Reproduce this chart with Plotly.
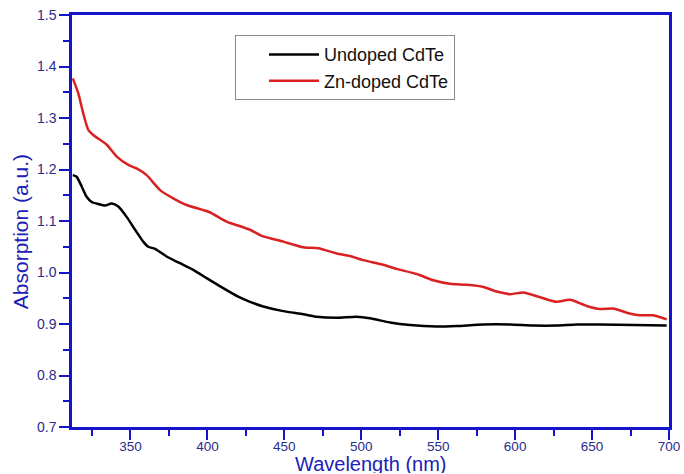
import plotly.graph_objects as go

# Undoped CdTe
wl_undoped = [312.5, 315, 318.3, 321.5, 324.8, 329.1, 333.4, 337.8, 342.1, 347.5, 353, 358.3,
              361.6, 366, 373.5, 382.2, 390.8, 399.5, 410, 420, 427.7, 436.3, 449.3, 462.3,
              471, 484, 497, 505.7, 518.7, 531.7, 549, 562, 579.3, 596.7, 611.8, 627, 640,
              655.2, 676.8, 698.5]
abs_undoped = [1.189, 1.186, 1.167, 1.147, 1.137, 1.133, 1.130, 1.134, 1.128, 1.108, 1.083, 1.060,
               1.050, 1.046, 1.031, 1.018, 1.005, 0.989, 0.970, 0.953, 0.943, 0.934, 0.925, 0.919,
               0.914, 0.912, 0.914, 0.911, 0.903, 0.898, 0.895, 0.896, 0.899, 0.899, 0.897, 0.897,
               0.899, 0.899, 0.898, 0.897]

# Zn-doped CdTe
wl_doped = [312.5, 316.1, 319.3, 322.6, 325.8, 334.6, 341.1, 348.6, 354.0, 360.5, 369.2, 377.8,
            386.5, 401.4, 412.5, 427.7, 436.3, 449.3, 462.3, 472.1, 484.0, 492.7, 501.3, 514.3,
            523.0, 536.0, 546.8, 557.7, 568.5, 579.3, 588.0, 596.7, 605.3, 616.2, 627.0, 635.7,
            646.5, 655.1, 663.8, 672.5, 681.1, 689.8, 698.5]
abs_doped = [1.377, 1.348, 1.309, 1.277, 1.267, 1.248, 1.225, 1.209, 1.202, 1.189, 1.160, 1.144,
             1.131, 1.117, 1.099, 1.083, 1.070, 1.060, 1.049, 1.047, 1.037, 1.032, 1.024, 1.015,
             1.007, 0.997, 0.985, 0.978, 0.976, 0.972, 0.963, 0.958, 0.961, 0.952, 0.943, 0.947,
             0.935, 0.929, 0.930, 0.922, 0.917, 0.917, 0.909]

x_ticks = [350, 400, 450, 500, 550, 600, 650, 700]
y_ticks = [0.7, 0.8, 0.9, 1.0, 1.1, 1.2, 1.3, 1.4, 1.5]
y_ticklabels = ["0.7", "0.8", "0.9", "1.0", "1.1", "1.2", "1.3", "1.4", "1.5"]

AX = "#1414c8"
LBL = "#2b2b8c"
TITLE_C = "#2020b8"
FONT = "Arial, Liberation Sans, sans-serif"

fig = go.Figure()
fig.add_trace(go.Scatter(x=wl_undoped, y=abs_undoped, mode="lines", name="Undoped CdTe",
                         line=dict(color="#000000", width=2.5, shape="spline", smoothing=0.6)))
fig.add_trace(go.Scatter(x=wl_doped, y=abs_doped, mode="lines", name="Zn-doped CdTe",
                         line=dict(color="#d92121", width=2.5, shape="spline", smoothing=0.6)))

axis_common = dict(showline=True, linecolor=AX, linewidth=2.5, mirror=True, ticks="outside",
                   tickcolor=AX, tickwidth=2, ticklen=10, showgrid=False, zeroline=False,
                   automargin=False)

fig.update_xaxes(range=[312, 700], tickvals=x_ticks, ticklabelstandoff=-5,
                 tickfont=dict(family=FONT, size=13.5, color=LBL),
                 minor=dict(ticks="outside", ticklen=6, tickwidth=2, tickcolor=AX, dtick=50, tick0=325),
                 **axis_common)
fig.update_yaxes(range=[0.7, 1.5], tickvals=y_ticks, ticktext=y_ticklabels,
                 tickfont=dict(family=FONT, size=14, color=LBL),
                 minor=dict(ticks="outside", ticklen=6, tickwidth=2, tickcolor=AX, dtick=0.1, tick0=0.75),
                 **axis_common)

fig.add_annotation(text="Wavelength (nm)", xref="paper", yref="paper", x=0.5, y=-0.089,
                   xanchor="center", yanchor="middle", showarrow=False, height=19, borderpad=0,
                   font=dict(family=FONT, size=20, color=TITLE_C))
fig.add_annotation(text="Absorption (a.u.)", xref="paper", yref="paper", x=-0.087, y=0.473,
                   xanchor="center", yanchor="middle", textangle=-90, showarrow=False,
                   font=dict(family=FONT, size=21, color=TITLE_C))

fig.update_layout(
    width=684, height=474,
    margin=dict(l=72, r=15, t=15, b=47),
    paper_bgcolor="white", plot_bgcolor="white",
    legend=dict(x=0.273, y=0.951, xanchor="left", yanchor="top",
                bordercolor="#888888", borderwidth=1, bgcolor="white",
                font=dict(family=FONT, size=18, color="#111111"),
                itemwidth=50, indentation=28, tracegroupgap=0),
)

fig.write_html("out.html")
